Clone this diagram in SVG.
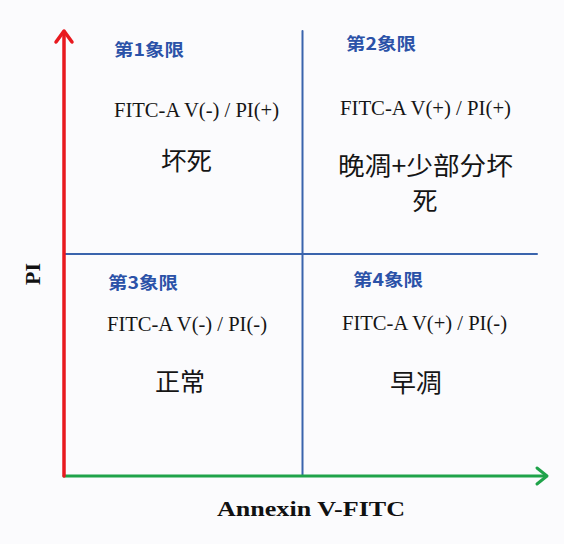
<svg xmlns="http://www.w3.org/2000/svg" width="564" height="544" viewBox="0 0 564 544">
<style>
.q{font-family:"Noto Sans CJK SC",sans-serif;font-weight:bold;font-size:17px;fill:#2b52a8}
.f{font-family:"Liberation Serif",serif;font-size:21px;fill:#151515}
.c{font-family:"Noto Sans CJK SC",sans-serif;font-size:25px;fill:#151515}
.ax{font-family:"Liberation Serif",serif;font-weight:bold;font-size:22px;fill:#111}
</style>
<rect width="564" height="544" fill="#fbfbfd"/>
<g id="connectors" fill="none" stroke-linecap="round" stroke-linejoin="round">
<line x1="302.5" y1="31" x2="302.5" y2="476" stroke="#3a64ad" stroke-width="2"/>
<line x1="64" y1="254" x2="537" y2="254" stroke="#3a64ad" stroke-width="2"/>
<line x1="64" y1="476" x2="546" y2="476" stroke="#1fa34a" stroke-width="3"/>
<polyline points="537,468 547,476 537,484" stroke="#1fa34a" stroke-width="3"/>
<line x1="64" y1="476" x2="64" y2="32" stroke="#e8191f" stroke-width="3.5"/>
<polyline points="56,42 64,31 72,42" stroke="#e8191f" stroke-width="3.5"/>
</g>
<g id="q1">
<text class="q" x="114" y="56" textLength="70" lengthAdjust="spacingAndGlyphs">第1象限</text>
<text class="f" x="114" y="117" textLength="165" lengthAdjust="spacingAndGlyphs">FITC-A V(-) / PI(+)</text>
<text class="c" x="161" y="170" textLength="51" lengthAdjust="spacingAndGlyphs">坏死</text>
</g>
<g id="q2">
<text class="q" x="346" y="50" textLength="70" lengthAdjust="spacingAndGlyphs">第2象限</text>
<text class="f" x="340" y="115" textLength="171" lengthAdjust="spacingAndGlyphs">FITC-A V(+) / PI(+)</text>
<text class="c" x="338" y="175" textLength="175" lengthAdjust="spacingAndGlyphs">晚凋+少部分坏</text>
<text class="c" x="425" y="210" text-anchor="middle" font-size="24">死</text>
</g>
<g id="q3">
<text class="q" x="108" y="289" textLength="70" lengthAdjust="spacingAndGlyphs">第3象限</text>
<text class="f" x="107" y="331" textLength="160" lengthAdjust="spacingAndGlyphs">FITC-A V(-) / PI(-)</text>
<text class="c" x="155" y="391" textLength="50" lengthAdjust="spacingAndGlyphs">正常</text>
</g>
<g id="q4">
<text class="q" x="353" y="286" textLength="70" lengthAdjust="spacingAndGlyphs">第4象限</text>
<text class="f" x="342" y="330" textLength="165" lengthAdjust="spacingAndGlyphs">FITC-A V(+) / PI(-)</text>
<text class="c" x="390" y="392" textLength="52" lengthAdjust="spacingAndGlyphs">早凋</text>
</g>
<g id="axis-labels">
<text class="ax" x="217" y="516" textLength="188" lengthAdjust="spacingAndGlyphs">Annexin V-FITC</text>
<text class="ax" transform="translate(40,274) rotate(-90)" text-anchor="middle" font-size="23">PI</text>
</g>
</svg>
